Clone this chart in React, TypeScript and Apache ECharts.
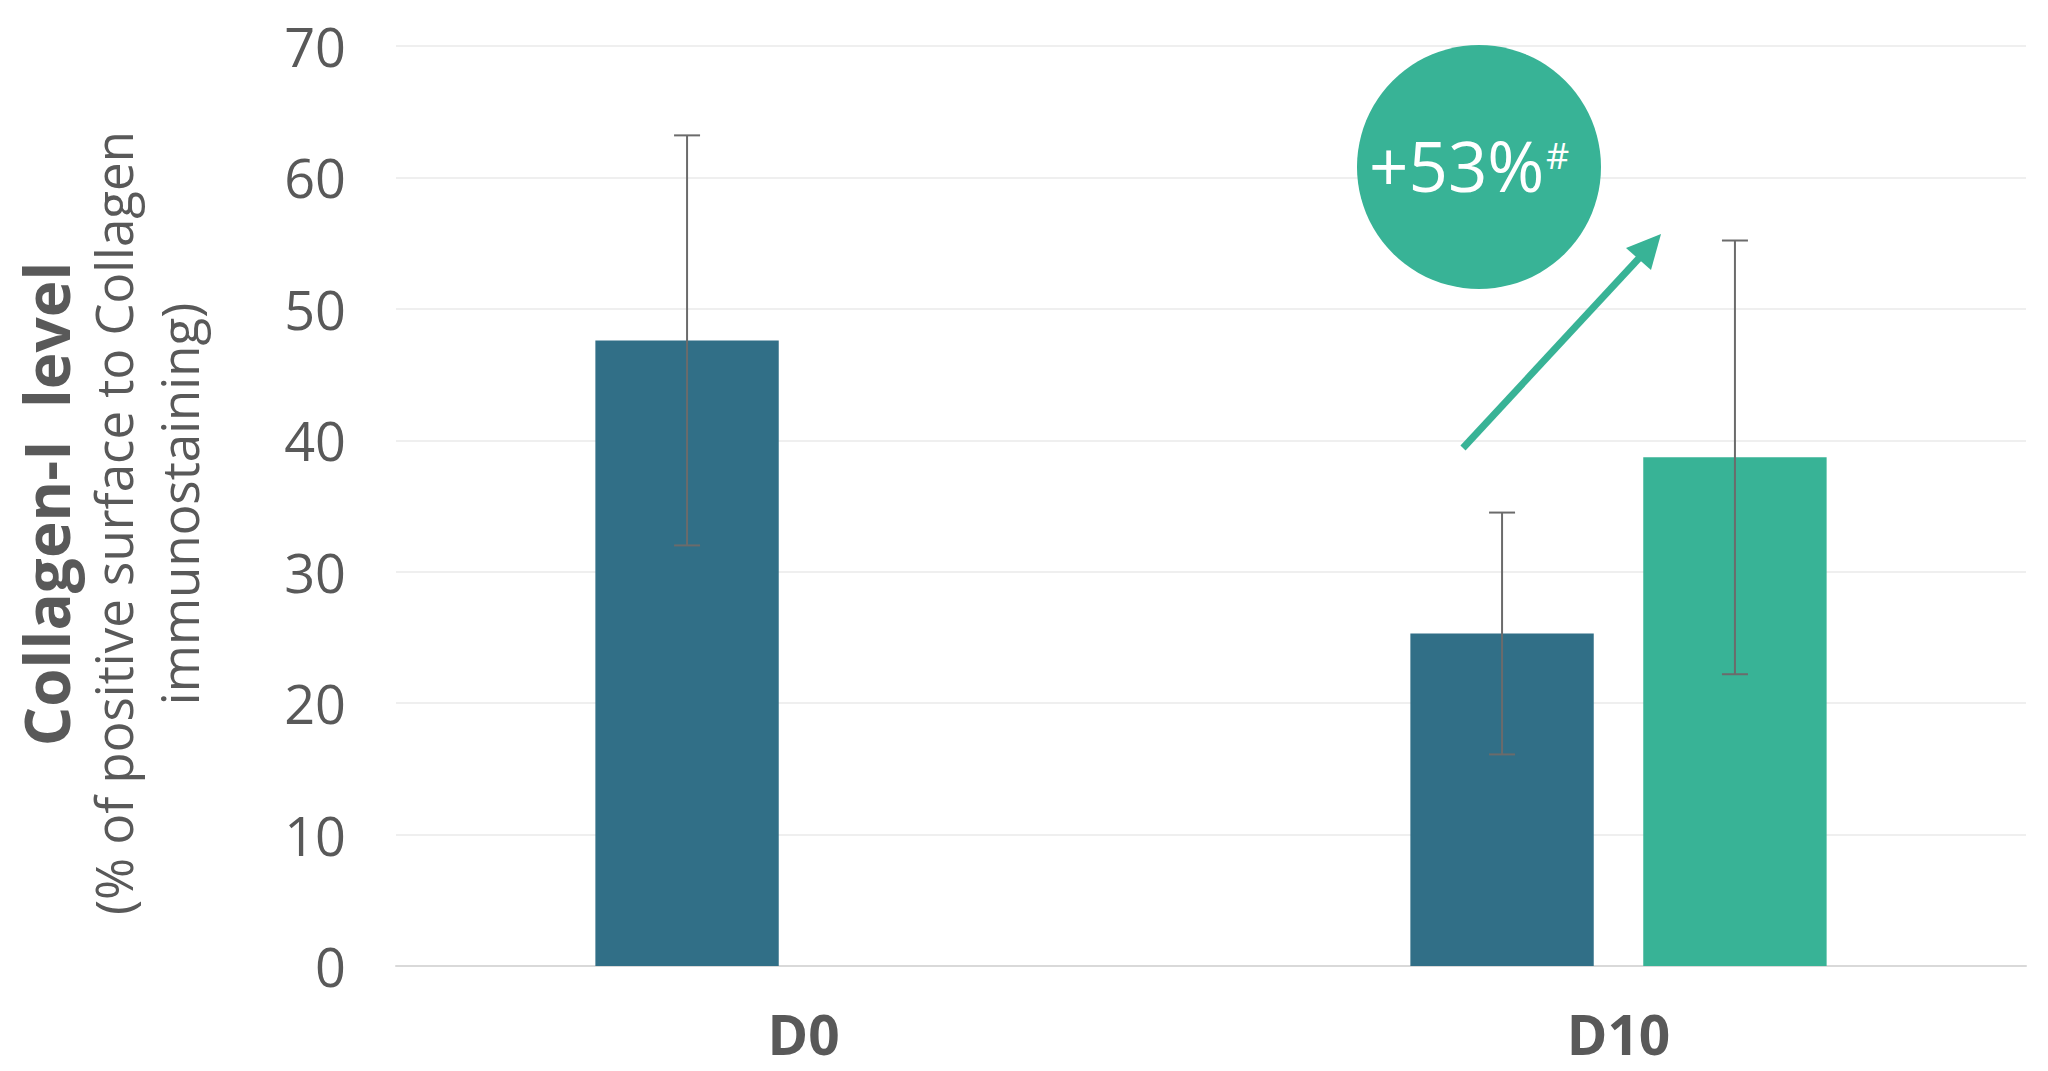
import React, { useEffect, useRef } from "react";
import * as echarts from "echarts";

const categories = ["D0", "D10"];
const untreatedValues = [47.6, 25.3];
const untreatedErrors = [15.6, 9.2];
const treatedValues: (number | null)[] = [null, 38.7];
const treatedErrors: (number | null)[] = [null, 16.5];
const yMin = 0;
const yMax = 70;
const yInterval = 10;
const annotationText = "+53%";
const annotationSup = "#";

const DARK = "#316F87";
const GREEN = "#38B396";
const TEXT = "#595959";
const BAR_FRAC = 0.225;
const BAR_GAP = 0.27;

function errorRender(side: number) {
  return (params: any, api: any) => {
    const cat = api.value(0);
    const mean = api.value(1);
    const err = api.value(2);
    if (mean == null || isNaN(mean)) return null;
    const band = api.size([1, 0])[0];
    const bw = band * BAR_FRAC;
    const off = (side * (bw + bw * BAR_GAP)) / 2;
    const top = api.coord([cat, mean + err]);
    const bot = api.coord([cat, mean - err]);
    const x = top[0] + off;
    const cap = 13;
    const style = { stroke: "#6b6b6b", lineWidth: 2 };
    return {
      type: "group",
      children: [
        { type: "line", shape: { x1: x, y1: top[1], x2: x, y2: bot[1] }, style },
        { type: "line", shape: { x1: x - cap, y1: top[1], x2: x + cap, y2: top[1] }, style },
        { type: "line", shape: { x1: x - cap, y1: bot[1], x2: x + cap, y2: bot[1] }, style },
      ],
    };
  };
}

export default function App() {
  const ref = useRef<HTMLDivElement>(null);
  useEffect(() => {
    if (!ref.current) return;
    const chart = echarts.init(ref.current, undefined, { renderer: "svg" });
    const untreatedErrData = categories.map((_, i) => [i, untreatedValues[i], untreatedErrors[i]]);
    const treatedErrData = categories
      .map((_, i) => [i, treatedValues[i], treatedErrors[i]])
      .filter((d) => d[1] != null);
    chart.setOption({
      animation: false,
      backgroundColor: "#ffffff",
      grid: { left: 396, right: 22, top: 46, bottom: 105, containLabel: false },
      xAxis: {
        type: "category",
        data: categories,
        axisLine: { show: true, lineStyle: { color: "#d9d9d9", width: 2 } },
        axisTick: { show: false },
        axisLabel: {
          color: TEXT,
          fontFamily: "Open Sans",
          fontWeight: "bold",
          fontSize: 55,
          margin: 40,
          lineHeight: 55,
        },
      },
      yAxis: {
        type: "value",
        min: yMin,
        max: yMax,
        interval: yInterval,
        axisLine: { show: false },
        axisTick: { show: false },
        splitLine: { lineStyle: { color: "#efefef", width: 2 } },
        axisLabel: {
          color: TEXT,
          fontFamily: "Open Sans",
          fontSize: 54,
          margin: 50,
        },
      },
      series: [
        {
          name: "Untreated",
          type: "bar",
          data: untreatedValues,
          barWidth: BAR_FRAC * 100 + "%",
          barGap: BAR_GAP * 100 + "%",
          itemStyle: { color: DARK },
        },
        {
          name: "Treated",
          type: "bar",
          data: treatedValues,
          barWidth: BAR_FRAC * 100 + "%",
          barGap: BAR_GAP * 100 + "%",
          itemStyle: { color: GREEN },
        },
        {
          type: "custom",
          renderItem: errorRender(-1),
          data: untreatedErrData,
          encode: { x: 0, y: 1 },
          z: 10,
        },
        {
          type: "custom",
          renderItem: errorRender(1),
          data: treatedErrData,
          encode: { x: 0, y: 1 },
          z: 10,
        },
      ],
      graphic: [
        {
          type: "text",
          x: 46,
          y: 504,
          rotation: Math.PI / 2,
          style: {
            text: "Collagen-I  level",
            fill: TEXT,
            font: "bold 62px 'Open Sans'",
            align: "center",
            verticalAlign: "middle",
          },
        },
        {
          type: "text",
          x: 113,
          y: 523,
          rotation: Math.PI / 2,
          style: {
            text: "(% of positive surface to Collagen",
            fill: TEXT,
            font: "51px 'Open Sans'",
            align: "center",
            verticalAlign: "middle",
          },
        },
        {
          type: "text",
          x: 179,
          y: 504,
          rotation: Math.PI / 2,
          style: {
            text: "immunostaining)",
            fill: TEXT,
            font: "51px 'Open Sans'",
            align: "center",
            verticalAlign: "middle",
          },
        },
        {
          type: "circle",
          shape: { cx: 1479, cy: 167, r: 122 },
          style: { fill: GREEN },
          z: 20,
        },
        {
          type: "text",
          x: 1369,
          y: 165,
          z: 21,
          style: {
            text: annotationText,
            fill: "#ffffff",
            font: "69px 'Open Sans'",
            align: "left",
            verticalAlign: "middle",
          },
        },
        {
          type: "text",
          x: 1546,
          y: 155,
          z: 21,
          style: {
            text: annotationSup,
            fill: "#ffffff",
            font: "36px 'Open Sans'",
            align: "left",
            verticalAlign: "middle",
          },
        },
        {
          type: "line",
          shape: { x1: 1463, y1: 448, x2: 1641, y2: 256 },
          style: { stroke: GREEN, lineWidth: 7 },
          z: 20,
        },
        {
          type: "polygon",
          shape: { points: [[1661, 234], [1626, 248], [1651, 270]] },
          style: { fill: GREEN },
          z: 20,
        },
      ],
    });
    return () => chart.dispose();
  }, []);
  return (
    <div
      ref={ref}
      style={{ position: "fixed", left: 0, top: 0, width: 2048, height: 1071, background: "#fff" }}
    />
  );
}
